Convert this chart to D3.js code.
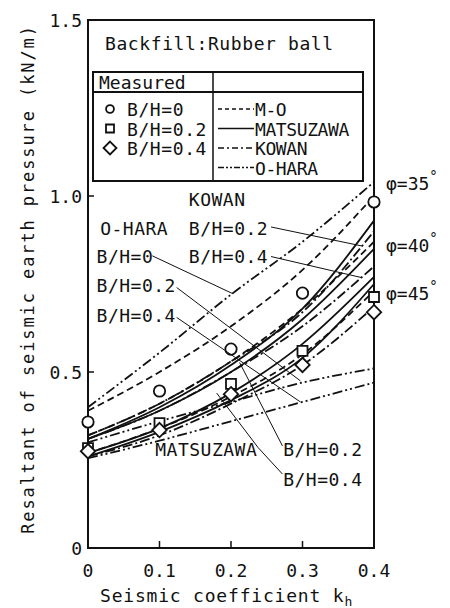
<!DOCTYPE html>
<html>
<head>
<meta charset="utf-8">
<script src="https://cdn.jsdelivr.net/npm/d3@7"></script>
<style>
  body { margin: 0; background: #fff; }
  text { font-family: "DejaVu Sans Mono", monospace; fill: #111; }
</style>
</head>
<body>
<script>
const width = 450, height = 608;

// seismic coefficient kh
const kh = [0, 0.1, 0.2, 0.3, 0.4];

// measured values
const measB0  = [0.358, 0.446, 0.565, 0.724, 0.983];
const measB02 = [0.284, 0.355, 0.466, 0.560, 0.713];
const measB04 = [0.275, 0.335, 0.437, 0.520, 0.670];

// theoretical curves (name, style, values at kh)
const curveNames  = ["OHARA35_0", "MO35", "MO40", "MATS40_02", "MATS40_04", "KOWAN40_02", "KOWAN40_04",
                     "OHARA_02", "MO45", "MATS45_02", "MATS45_04", "KOWAN45_04", "OHARA_04"];
const curveStyles = ["ohara", "mo", "mo", "mats", "mats", "kowan", "kowan",
                     "ohara", "mo", "mats", "mats", "kowan", "ohara"];
const curveValues = [
  [0.400, 0.555, 0.720, 0.870, 1.040],
  [0.390, 0.500, 0.630, 0.790, 1.000],
  [0.320, 0.410, 0.530, 0.680, 0.870],
  [0.310, 0.400, 0.520, 0.680, 0.930],
  [0.310, 0.390, 0.500, 0.650, 0.850],
  [0.320, 0.410, 0.530, 0.670, 0.900],
  [0.310, 0.390, 0.500, 0.630, 0.800],
  [0.300, 0.360, 0.415, 0.470, 0.510],
  [0.270, 0.340, 0.430, 0.550, 0.730],
  [0.270, 0.340, 0.440, 0.580, 0.770],
  [0.260, 0.330, 0.420, 0.540, 0.750],
  [0.260, 0.320, 0.410, 0.520, 0.685],
  [0.255, 0.305, 0.360, 0.415, 0.470]
];

const xTicks = [0, 0.1, 0.2, 0.3, 0.4];
const yTicks = [0, 0.5, 1.0, 1.5];

const dashes = { mo: "7,4", mats: null, kowan: "10,3,2,3", ohara: "10,3,2,3,2,3" };

const x = d3.scaleLinear().domain([0, 0.4]).range([88, 374]);
const y = d3.scaleLinear().domain([0, 1.5]).range([548, 20]);

const svg = d3.select("body").append("svg")
  .attr("width", width)
  .attr("height", height);

// frame
svg.append("rect")
  .attr("x", x(0)).attr("y", y(1.5))
  .attr("width", x(0.4) - x(0)).attr("height", y(0) - y(1.5))
  .attr("fill", "none").attr("stroke", "#111").attr("stroke-width", 2);

// ticks (inward)
svg.selectAll(".xt").data(xTicks.slice(1, 4)).enter().append("line")
  .attr("x1", d => x(d)).attr("x2", d => x(d))
  .attr("y1", y(0)).attr("y2", y(0) - 7)
  .attr("stroke", "#111").attr("stroke-width", 1.5);
svg.selectAll(".yt").data([0.5, 1.0]).enter().append("line")
  .attr("x1", x(0)).attr("x2", x(0) + 6)
  .attr("y1", d => y(d)).attr("y2", d => y(d))
  .attr("stroke", "#111").attr("stroke-width", 1.5);

svg.selectAll(".xl").data(xTicks).enter().append("text")
  .attr("x", d => x(d)).attr("y", 577)
  .attr("text-anchor", "middle")
  .attr("font-size", 18)
  .text(d => d === 0 ? "0" : d.toFixed(1));
svg.selectAll(".yl").data(yTicks).enter().append("text")
  .attr("x", 82).attr("y", d => y(d) + 7)
  .attr("text-anchor", "end")
  .attr("font-size", 18)
  .text(d => d === 0 ? "0" : d.toFixed(1));

// axis titles
svg.append("text")
  .attr("transform", "translate(34," + 279 + ") rotate(-90)")
  .attr("text-anchor", "middle")
  .attr("font-size", 17)
  .attr("letter-spacing", 1.9)
  .text("Resaltant of seismic earth pressure (kN/m)");
const xt = svg.append("text")
  .attr("x", 100).attr("y", 602)
  .attr("font-size", 18)
  .attr("letter-spacing", 0.8);
xt.append("tspan").text("Seismic coefficient k");
xt.append("tspan").attr("font-size", 13).attr("dy", 4).text("h");

// curves
const line = d3.line()
  .x((d, i) => x(kh[i]))
  .y(d => y(d))
  .curve(d3.curveMonotoneX);

svg.selectAll(".curve").data(curveValues).enter().append("path")
  .attr("d", line)
  .attr("fill", "none")
  .attr("stroke", "#111")
  .attr("stroke-width", 1.8)
  .attr("stroke-dasharray", (d, i) => dashes[curveStyles[i]]);

// measured points
function symPath(type, s) {
  if (type === "circle") return d3.symbol().type(d3.symbolCircle).size(s * s * 0.6)();
  if (type === "square") return d3.symbol().type(d3.symbolSquare).size(s * s)();
  const h = s * 0.72;
  return "M0," + (-h) + "L" + h + ",0L0," + h + "L" + (-h) + ",0Z";
}
function drawPoints(vals, type, s) {
  svg.selectAll(null).data(vals).enter().append("path")
    .attr("transform", (d, i) => "translate(" + x(kh[i]) + "," + y(d) + ")")
    .attr("d", symPath(type, s))
    .attr("fill", "#fff").attr("stroke", "#111").attr("stroke-width", 1.8);
}
drawPoints(measB0, "circle", 13);
drawPoints(measB02, "square", 10);
drawPoints(measB04, "diamond", 10);

// title inside plot
svg.append("text")
  .attr("x", 105).attr("y", 50)
  .attr("font-size", 18).attr("letter-spacing", 0.6)
  .text("Backfill:Rubber ball");

// legend table
const lg = svg.append("g");
lg.append("rect").attr("x", 93).attr("y", 72).attr("width", 270).attr("height", 109)
  .attr("fill", "#fff").attr("stroke", "#111").attr("stroke-width", 2);
lg.append("line").attr("x1", 93).attr("x2", 363).attr("y1", 92).attr("y2", 92)
  .attr("stroke", "#111").attr("stroke-width", 1.8);
lg.append("line").attr("x1", 213).attr("x2", 213).attr("y1", 72).attr("y2", 181)
  .attr("stroke", "#111").attr("stroke-width", 1.5);
lg.append("text").attr("x", 99).attr("y", 89).attr("font-size", 18).text("Measured");

const measLabels = ["B/H=0", "B/H=0.2", "B/H=0.4"];
const measTypes = ["circle", "square", "diamond"];
const measSizes = [9, 8, 9];
measLabels.forEach((t, i) => {
  const cy = 109 + i * 19.5;
  lg.append("path")
    .attr("transform", "translate(110," + cy + ")")
    .attr("d", symPath(measTypes[i], measSizes[i]))
    .attr("fill", "#fff").attr("stroke", "#111").attr("stroke-width", 1.8);
  lg.append("text").attr("x", 127).attr("y", cy + 7).attr("font-size", 18)
    .attr("letter-spacing", 0.6).text(t);
});

const methodLabels = ["M-O", "MATSUZAWA", "KOWAN", "O-HARA"];
const methodStyles = ["mo", "mats", "kowan", "ohara"];
const legendDash = { mo: "4,3", mats: null, kowan: "6,3,2,3", ohara: "6,2,2,2,2,2" };
methodLabels.forEach((t, i) => {
  const cy = 109 + i * 19.5;
  lg.append("line").attr("x1", 218).attr("x2", 254).attr("y1", cy).attr("y2", cy)
    .attr("stroke", "#111").attr("stroke-width", 1.6)
    .attr("stroke-dasharray", legendDash[methodStyles[i]]);
  lg.append("text").attr("x", 255).attr("y", cy + 7).attr("font-size", 18)
    .attr("letter-spacing", -0.4).text(t);
});

// phi labels
const phiLabels = ["35", "40", "45"];
const phiY = [183, 245, 293];
phiLabels.forEach((p, i) => {
  const t = svg.append("text").attr("x", 386).attr("y", phiY[i] + 7).attr("font-size", 18);
  t.append("tspan").text("\u03c6=" + p);
  t.append("tspan").attr("font-size", 14).attr("dy", -9).text("\u00b0");
});

// annotations: text, x (data), baseline y (data)
const annoText = ["KOWAN", "O-HARA", "B/H=0.2", "B/H=0", "B/H=0.4", "B/H=0.2", "B/H=0.4",
                  "MATSUZAWA", "B/H=0.2", "B/H=0.4"];
const annoX = [0.141, 0.017, 0.141, 0.012, 0.141, 0.012, 0.012, 0.094, 0.273, 0.273];
const annoY = [0.972, 0.889, 0.889, 0.81, 0.81, 0.726, 0.643, 0.26, 0.26, 0.177];
annoText.forEach((t, i) => {
  svg.append("text").attr("x", x(annoX[i])).attr("y", y(annoY[i]))
    .attr("font-size", 18).attr("letter-spacing", 0.5).text(t);
});

// leader lines [x1,y1,x2,y2] in data units
const leaders = [
  [0.256, 0.912, 0.383, 0.858],
  [0.256, 0.828, 0.383, 0.768],
  [0.09, 0.83, 0.203, 0.722],
  [0.124, 0.74, 0.297, 0.475],
  [0.124, 0.655, 0.297, 0.415],
  [0.272, 0.29, 0.212, 0.527],
  [0.272, 0.21, 0.238, 0.285],
  [0.238, 0.285, 0.18, 0.44]
];
svg.selectAll(".leader").data(leaders).enter().append("line")
  .attr("x1", d => x(d[0])).attr("y1", d => y(d[1]))
  .attr("x2", d => x(d[2])).attr("y2", d => y(d[3]))
  .attr("stroke", "#111").attr("stroke-width", 1);
</script>
</body>
</html>
